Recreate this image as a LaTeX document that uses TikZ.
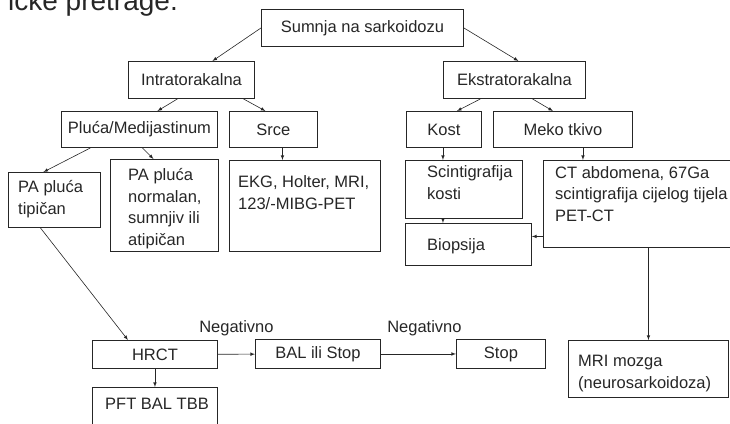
\documentclass[tikz,border=0pt]{standalone}
\usepackage{fontspec}
\setmainfont{Liberation Sans}
\begin{document}
\begin{tikzpicture}[>=latex, x=1pt, y=-1pt,
	kut/.style={draw=black!85, line width=0.9pt, inner sep=0pt, anchor=north west, text=black!85, font=\fontsize{16.5}{21}\selectfont},
	tekst/.style={anchor=base west, align=left, inner sep=0pt, text=black!85, font=\fontsize{16.5}{21.5}\selectfont},
	veza/.style={->, line width=0.6pt, draw=black!85}]
		\useasboundingbox (0,0) rectangle (730,423);
		\begin{scope}
		\clip (0,0) rectangle (730,423);
		\node[tekst, font=\fontsize{28}{30}\selectfont] (naslov) at (8,10) {ičke pretrage.};
		\node[kut, minimum width=202pt, minimum height=37pt] (sumnja) at (261,9) {Sumnja na sarkoidozu};
		\node[kut, minimum width=126pt, minimum height=37pt] (intra) at (128,61) {Intratorakalna};
		\node[kut, minimum width=142pt, minimum height=37pt] (ekstra) at (443,61) {Ekstratorakalna};
		\node[kut, minimum width=156pt, minimum height=36pt] (pluca) at (61,111) {Pluća/Medijastinum};
		\node[kut, minimum width=88pt, minimum height=36pt] (srce) at (229,111) {Srce};
		\node[kut, minimum width=75pt, minimum height=36pt] (kost) at (406,111) {Kost};
		\node[kut, minimum width=139pt, minimum height=36pt] (meko) at (493,111) {Meko tkivo};
		\node[kut, minimum width=92pt, minimum height=55pt] (tipican) at (8,172) {};
		\node[tekst] (tipicanT) at (18,214) {PA pluća\\tipičan};
		\node[kut, minimum width=108pt, minimum height=92pt] (normalan) at (110,159) {};
		\node[tekst] (normalanT) at (128,245) {PA pluća\\normalan,\\sumnjiv ili\\atipičan};
		\node[kut, minimum width=151pt, minimum height=91pt] (ekg) at (229,160) {};
		\node[tekst] (ekgT) at (238,209) {EKG, Holter, MRI,\\123/-MIBG-PET};
		\node[kut, minimum width=117pt, minimum height=58pt] (scinti) at (405,160) {};
		\node[tekst] (scintiT) at (427,199) {Scintigrafija\\kosti};
		\node[kut, minimum width=126pt, minimum height=42pt] (biopsija) at (405,223) {};
		\node[tekst] (biopsijaT) at (427,250) {Biopsija};
		\node[kut, minimum width=200pt, minimum height=87pt] (ct) at (543,160) {};
		\node[tekst] (ctT) at (555,221) {CT abdomena, 67Ga\\scintigrafija cijelog tijela\\PET-CT};
		\node[kut, minimum width=125pt, minimum height=28pt] (hrct) at (92,340) {HRCT};
		\node[kut, minimum width=125pt, minimum height=29pt] (bal) at (255,339) {BAL ili Stop};
		\node[kut, minimum width=89pt, minimum height=29pt] (stop) at (456,339) {Stop};
		\node[kut, minimum width=160pt, minimum height=57pt] (mri) at (568,340) {};
		\node[tekst] (mriT) at (578,388) {MRI mozga\\(neurosarkoidoza)};
		\node[kut, minimum width=125pt, minimum height=50pt] (pft) at (92,387) {};
		\node[tekst] (pftT) at (105,409) {PFT BAL TBB};
		\end{scope}
		\draw[veza] (sumnja.west) -- ([xshift=21pt]intra.north);
		\draw[veza] (sumnja.east) -- ([xshift=4pt]ekstra.north);
		\draw[veza] ([xshift=-14pt]intra.south) -- ([xshift=18pt]pluca.north);
		\draw[veza] ([xshift=52pt]intra.south) -- ([xshift=-8pt]srce.north);
		\draw[veza] ([xshift=-34pt]ekstra.south) -- ([xshift=13pt]kost.north);
		\draw[veza] ([xshift=18pt]ekstra.south) -- ([xshift=-10pt]meko.north);
		\draw[veza] ([xshift=-49pt]pluca.south) -- ([xshift=-11pt]tipican.north);
		\draw[veza] ([xshift=3pt]pluca.south) -- ([xshift=-11pt]normalan.north);
		\draw[veza] ([xshift=9pt]srce.south) -- ([xshift=9pt]srce.south |- ekg.north);
		\draw[veza] ([xshift=-1pt]kost.south) -- ([xshift=-1pt]kost.south |- scinti.north);
		\draw[veza] ([xshift=-21pt]scinti.south) -- ([xshift=-21pt]scinti.south |- biopsija.north);
		\draw[veza] ([xshift=20pt]meko.south) -- ([xshift=20pt]meko.south |- ct.north);
		\coordinate (ulaz) at ([yshift=8pt]biopsija.east);
		\draw[veza] (ct.west |- ulaz) -- (ulaz);
		\draw[veza] (mri.north |- ct.south) -- (mri.north);
		\draw[veza] ([xshift=-14pt]tipican.south) -- ([xshift=-27pt]hrct.north);
		\draw[veza] (hrct.south) -- (pft.north);
		\draw[veza] (hrct) -- node[tekst, anchor=base, above=18pt] (neg1) {Negativno} (bal);
		\draw[veza] (bal) -- node[tekst, anchor=base, above=18pt, xshift=6pt] (neg2) {Negativno} (stop);
		
		\end{tikzpicture}
\end{document}
